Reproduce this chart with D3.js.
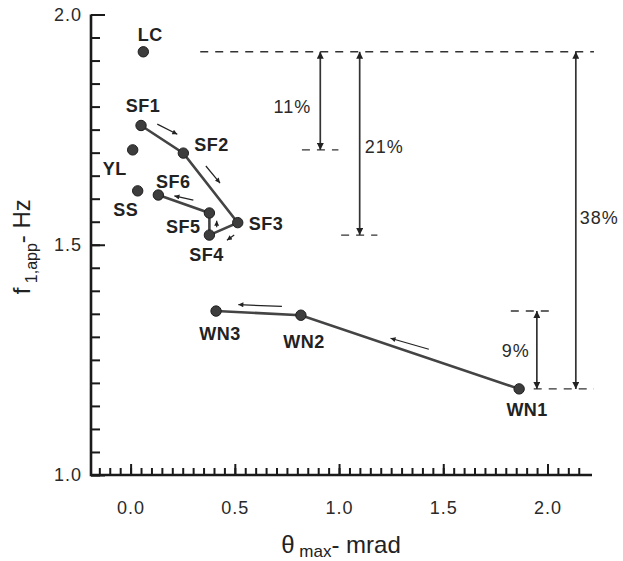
<!DOCTYPE html>
<html>
<head>
<meta charset="utf-8">
<script src="https://cdn.jsdelivr.net/npm/d3@7"></script>
<style>
  body { margin: 0; background: #fff; }
  svg { display: block; }
</style>
</head>
<body>
<div id="chart"></div>
<script>
// measured points: theta max (mrad) vs apparent first frequency (Hz)
const names = ["LC", "SF1", "YL", "SF2", "SS", "SF6", "SF5", "SF3", "SF4", "WN3", "WN2", "WN1"];
const thetaMax = [0.061, 0.050, 0.010, 0.253, 0.034, 0.133, 0.378, 0.514, 0.378, 0.410, 0.817, 1.864];
const f1app = [1.919, 1.759, 1.706, 1.699, 1.617, 1.608, 1.569, 1.548, 1.521, 1.356, 1.347, 1.187];

// connected sequences
const sfPath = ["SF1", "SF2", "SF3", "SF4", "SF5", "SF6"];
const wnPath = ["WN1", "WN2", "WN3"];

// small direction arrows, [x1, y1, x2, y2] in data units
const dirArrows = [
  [0.128, 1.762, 0.224, 1.740],
  [0.361, 1.671, 0.429, 1.634],
  [0.497, 1.521, 0.462, 1.510],
  [0.413, 1.538, 0.413, 1.552],
  [0.301, 1.597, 0.210, 1.606],
  [1.431, 1.273, 1.247, 1.297],
  [0.726, 1.366, 0.517, 1.370]
];

// frequency drops
const dropFrom = ["LC", "LC", "LC", "WN3"];
const dropTo = ["YL", "SF4", "WN1", "WN1"];
const dropLabels = ["11%", "21%", "38%", "9%"];

const width = 623, height = 561;
const margin = { left: 91, right: 38, top: 14.5, bottom: 86 };

const x = d3.scaleLinear().domain([-0.19, 2.18]).range([margin.left, width - margin.right]);
const y = d3.scaleLinear().domain([1.0, 2.0]).range([height - margin.bottom, margin.top]);

const svg = d3.select("#chart").append("svg")
  .attr("width", width)
  .attr("height", height)
  .style("font-family", "'Liberation Sans', Arial, sans-serif");

const defs = svg.append("defs");
defs.append("marker")
  .attr("id", "head")
  .attr("viewBox", "0 0 10 10")
  .attr("refX", 10).attr("refY", 5)
  .attr("markerUnits", "userSpaceOnUse")
  .attr("markerWidth", 8).attr("markerHeight", 7)
  .attr("orient", "auto-start-reverse")
  .append("path").attr("d", "M0,0L10,5L0,10Z").attr("fill", "#222");
defs.append("marker")
  .attr("id", "small")
  .attr("viewBox", "0 0 10 10")
  .attr("refX", 10).attr("refY", 5)
  .attr("markerUnits", "userSpaceOnUse")
  .attr("markerWidth", 6).attr("markerHeight", 5)
  .attr("orient", "auto")
  .append("path").attr("d", "M0,0L10,5L0,10Z").attr("fill", "#222");

const axisColor = "#1a1a1a";

// --- axes
const yMinor = y.ticks(20);
const yMajor = [1.0, 1.5, 2.0];
const xMinor = d3.range(-3, 44).map(i => i * 0.05);
const xMajor = [0, 0.5, 1.0, 1.5, 2.0];

const gy = svg.append("g").attr("transform", `translate(${margin.left},0)`);
gy.append("g").call(d3.axisLeft(y).tickValues(yMinor).tickSize(-9).tickFormat(""));
gy.append("g").call(d3.axisLeft(y).tickValues(yMajor).tickSize(-14).tickPadding(9).tickFormat(d3.format(".1f")));

const gx = svg.append("g").attr("transform", `translate(0,${y(1.0)})`);
gx.append("g").call(d3.axisBottom(x).tickValues(xMinor).tickSize(-7).tickFormat(""));
gx.append("g").call(d3.axisBottom(x).tickValues(xMajor).tickSize(-11).tickPadding(26).tickFormat(d3.format(".1f")));

svg.selectAll(".domain").remove();
svg.selectAll(".tick line").attr("stroke", axisColor).attr("stroke-width", 2);
svg.selectAll(".tick text")
  .attr("font-size", 18)
  .attr("letter-spacing", 1)
  .attr("fill", "#2a2a2a")
  .attr("font-family", "'Liberation Sans', Arial, sans-serif");

svg.append("path")
  .attr("d", `M${margin.left},${y(2.0)}V${y(1.0)}H${x(2.18) + 7}`)
  .attr("fill", "none")
  .attr("stroke", axisColor)
  .attr("stroke-width", 2.6);

// --- axis titles
const yTitle = svg.append("text")
  .attr("transform", `translate(30,${(y(1.5) + 2)}) rotate(-90)`)
  .attr("text-anchor", "middle")
  .attr("font-size", 24)
  .attr("fill", "#222");
yTitle.append("tspan").text("f");
yTitle.append("tspan").attr("font-size", 16).attr("dy", 7).text(" 1,app");
yTitle.append("tspan").attr("dy", -7).text("- Hz");

const xTitle = svg.append("text")
  .attr("x", 341).attr("y", 553)
  .attr("text-anchor", "middle")
  .attr("font-size", 24)
  .attr("fill", "#222");
xTitle.append("tspan").text("θ");
xTitle.append("tspan").attr("font-size", 17).attr("dy", 4).text(" max");
xTitle.append("tspan").attr("dy", -4).text("- mrad");

// --- drop annotations
const idx = name => names.indexOf(name);
const dropX = [0.910, 1.099, 2.136, 1.949];
const labelDx = [-9, 5, 4, -7];
const labelDy = [6, 4, -2, 1];

// dashed reference levels
const levels = [
  { n: "LC", x0: 0.334, x1: 2.223 },
  { n: "YL", x0: 0.822, x1: 0.997 },
  { n: "SF4", x0: 1.010, x1: 1.184 },
  { n: "WN3", x0: 1.824, x1: 2.007 },
  { n: "WN1", x0: 1.934, x1: 2.223 }
];
svg.append("g")
  .selectAll("line")
  .data(levels)
  .join("line")
  .attr("x1", d => x(d.x0))
  .attr("x2", d => x(d.x1))
  .attr("y1", d => y(f1app[idx(d.n)]))
  .attr("y2", d => y(f1app[idx(d.n)]))
  .attr("stroke", "#333")
  .attr("stroke-width", 1.4)
  .attr("stroke-dasharray", "8,7");

const drops = dropLabels.map((label, i) => ({
  label,
  x: dropX[i],
  top: f1app[idx(dropFrom[i])],
  bottom: f1app[idx(dropTo[i])],
  dx: labelDx[i],
  dy: labelDy[i]
}));

svg.append("g")
  .selectAll("line")
  .data(drops)
  .join("line")
  .attr("x1", d => x(d.x))
  .attr("x2", d => x(d.x))
  .attr("y1", d => y(d.top))
  .attr("y2", d => y(d.bottom))
  .attr("stroke", "#333")
  .attr("stroke-width", 1.7)
  .attr("marker-start", "url(#head)")
  .attr("marker-end", "url(#head)");

svg.append("g")
  .selectAll("text")
  .data(drops)
  .join("text")
  .attr("x", d => x(d.x) + d.dx)
  .attr("y", d => (y(d.top) + y(d.bottom)) / 2 + d.dy)
  .attr("dominant-baseline", "central")
  .attr("text-anchor", d => d.dx < 0 ? "end" : "start")
  .attr("font-size", 18)
  .attr("letter-spacing", 1)
  .attr("fill", "#2a2a2a")
  .text(d => d.label);

// --- connecting lines
const line = d3.line()
  .x(n => x(thetaMax[idx(n)]))
  .y(n => y(f1app[idx(n)]));

svg.append("g")
  .selectAll("path")
  .data([sfPath, wnPath])
  .join("path")
  .attr("d", line)
  .attr("fill", "none")
  .attr("stroke", "#444")
  .attr("stroke-width", 2.6);

// direction arrows
svg.append("g")
  .selectAll("line")
  .data(dirArrows)
  .join("line")
  .attr("x1", d => x(d[0]))
  .attr("y1", d => y(d[1]))
  .attr("x2", d => x(d[2]))
  .attr("y2", d => y(d[3]))
  .attr("stroke", "#222")
  .attr("stroke-width", 1.2)
  .attr("marker-end", "url(#small)");

// --- points
svg.append("g")
  .selectAll("circle")
  .data(names)
  .join("circle")
  .attr("cx", (n, i) => x(thetaMax[i]))
  .attr("cy", (n, i) => y(f1app[i]))
  .attr("r", 5.2)
  .attr("fill", "#3d3d3d")
  .attr("stroke", "#1e1e1e")
  .attr("stroke-width", 1);

// point label placement, pixel offsets from the point
const labelPos = {
  LC: [7, -11, "middle"],
  SF1: [2, -13, "middle"],
  SF2: [11, -2, "start"],
  YL: [-18, 25, "middle"],
  SF6: [15, -7, "middle"],
  SS: [-12, 25, "middle"],
  SF5: [-9, 20, "end"],
  SF3: [11, 7, "start"],
  SF4: [-3, 26, "middle"],
  WN3: [4, 29, "middle"],
  WN2: [3, 33, "middle"],
  WN1: [8, 27, "middle"]
};

svg.append("g")
  .selectAll("text")
  .data(names)
  .join("text")
  .attr("x", (n, i) => x(thetaMax[i]) + labelPos[n][0])
  .attr("y", (n, i) => y(f1app[i]) + labelPos[n][1])
  .attr("text-anchor", n => labelPos[n][2])
  .attr("font-size", 18)
  .attr("font-weight", "bold")
  .attr("letter-spacing", 0.5)
  .attr("fill", "#222")
  .text(n => n);
</script>
</body>
</html>
